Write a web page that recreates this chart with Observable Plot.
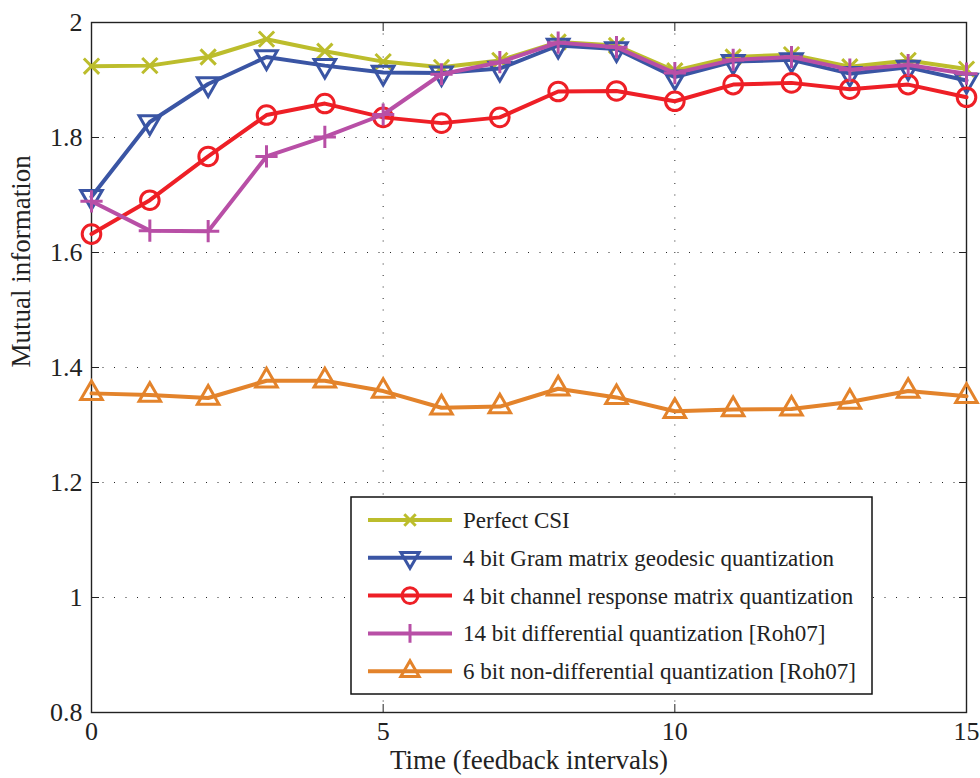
<!DOCTYPE html>
<html><head><meta charset="utf-8">
<script src="https://cdn.jsdelivr.net/npm/d3@7"></script>
<script src="https://cdn.jsdelivr.net/npm/@observablehq/plot@0.6"></script>
<style>body{margin:0;background:#fff} #chart{width:980px;height:778px}</style>
</head><body><div id="chart"></div>
<script>
const timeSteps = [0,1,2,3,4,5,6,7,8,9,10,11,12,13,14,15];
const perfectCSI = [1.924,1.925,1.940,1.971,1.950,1.932,1.922,1.934,1.966,1.960,1.916,1.940,1.944,1.923,1.934,1.919];
const gramGeodesic4 = [1.697,1.827,1.893,1.940,1.925,1.913,1.912,1.920,1.960,1.954,1.905,1.932,1.935,1.911,1.922,1.899];
const channelResponse4 = [1.632,1.691,1.767,1.839,1.859,1.835,1.825,1.835,1.880,1.881,1.863,1.892,1.895,1.884,1.892,1.870];
const differential14 = [1.689,1.638,1.637,1.767,1.801,1.840,1.910,1.931,1.965,1.957,1.912,1.935,1.940,1.918,1.926,1.911];
const nonDifferential6 = [1.355,1.352,1.347,1.377,1.377,1.359,1.330,1.332,1.363,1.348,1.324,1.327,1.328,1.340,1.359,1.350];

const seriesNames = [
  "Perfect CSI",
  "4 bit Gram matrix geodesic quantization",
  "4 bit channel response matrix quantization",
  "14 bit differential quantization [Roh07]",
  "6 bit non-differential quantization [Roh07]"
];
const seriesValues = [perfectCSI, gramGeodesic4, channelResponse4, differential14, nonDifferential6];
const seriesColors = ["#bcbd2c", "#3a55a4", "#ee1f26", "#b84fa6", "#e3832b"];
const seriesSymbols = ["times", "triangle", "circle", "plus", "triangle"];
const seriesRotate = [0, 180, 0, 0, 0];
const seriesR = [7, 8, 9.3, 7.2, 8];

const xTicks = [0, 5, 10, 15];
const yTicks = [0.8, 1, 1.2, 1.4, 1.6, 1.8, 2];
const xGrid = [5, 10];
const yGrid = [1, 1.2, 1.4, 1.6, 1.8];
const xLabel = "Time (feedback intervals)";
const yLabel = "Mutual information";

const rows = seriesNames.flatMap((name, i) =>
  timeSteps.map((t, j) => ({series: name, idx: i, t, v: seriesValues[i][j]})));

const marks = [
  Plot.gridX(xGrid, {stroke: "#000", strokeOpacity: 0.85, strokeDasharray: "1,10.5", strokeWidth: 1}),
  Plot.gridY(yGrid, {stroke: "#000", strokeOpacity: 0.85, strokeDasharray: "1,10.5", strokeWidth: 1}),
  Plot.axisX({ticks: xTicks, tickSize: -8, tickPadding: 17, tickFormat: d => String(d), label: null, fontSize: 26}),
  Plot.axisX({anchor: "top", ticks: xTicks, tickSize: -8, tickFormat: () => "", label: null}),
  Plot.axisY({ticks: yTicks, tickSize: -8, tickPadding: 17, tickFormat: d => String(d), label: null, fontSize: 26}),
  Plot.axisY({anchor: "right", ticks: yTicks, tickSize: -8, tickFormat: () => "", label: null}),
  Plot.frame({stroke: "#222", strokeWidth: 1.4}),
  Plot.text([yLabel], {frameAnchor: "left", dx: -70, rotate: -90, fontSize: 27}),
  Plot.text([xLabel], {frameAnchor: "bottom", dy: 56, fontSize: 27})
];
seriesNames.forEach((name, i) => {
  const d = rows.filter(r => r.idx === i);
  marks.push(Plot.line(d, {x: "t", y: "v", stroke: seriesColors[i], strokeWidth: 4}));
  marks.push(Plot.dot(d, {x: "t", y: "v", stroke: seriesColors[i], symbol: seriesSymbols[i],
    r: seriesR[i], rotate: seriesRotate[i], strokeWidth: 3, fill: "none"}));
});

const svg = Plot.plot({
  width: 980, height: 778,
  marginLeft: 91, marginRight: 14, marginTop: 22, marginBottom: 66,
  x: {domain: [0, 15]},
  y: {domain: [0.8, 2]},
  style: {fontFamily: "'Liberation Serif', 'DejaVu Serif', serif", fontSize: "26px", color: "#222", background: "#fff"},
  marks
});

// legend
const lg = d3.select(svg).append("g").attr("font-family", "'Liberation Serif', serif").attr("font-size", 23)
  .attr("text-anchor", "start");
lg.append("rect").attr("x", 351).attr("y", 497).attr("width", 521).attr("height", 197)
  .attr("fill", "#fff").attr("stroke", "#111").attr("stroke-width", 1.5);
const symMap = {times: d3.symbolTimes, triangle: d3.symbolTriangle, circle: d3.symbolCircle, plus: d3.symbolPlus};
seriesNames.forEach((name, i) => {
  const cy = 520 + i * 37.8;
  lg.append("line").attr("x1", 368).attr("x2", 452).attr("y1", cy).attr("y2", cy)
    .attr("stroke", seriesColors[i]).attr("stroke-width", 4);
  const r = seriesR[i] * (i === 0 ? 0.75 : 0.85);
  lg.append("path").attr("d", d3.symbol(symMap[seriesSymbols[i]], Math.PI * r * r)())
    .attr("transform", `translate(410,${cy}) rotate(${seriesRotate[i]})`)
    .attr("fill", "none").attr("stroke", seriesColors[i]).attr("stroke-width", 3);
  lg.append("text").attr("x", 463).attr("y", cy).attr("dy", "0.35em").attr("text-anchor", "start")
    .attr("fill", "#222").text(name);
});

document.getElementById("chart").appendChild(svg);
</script>
</body></html>
